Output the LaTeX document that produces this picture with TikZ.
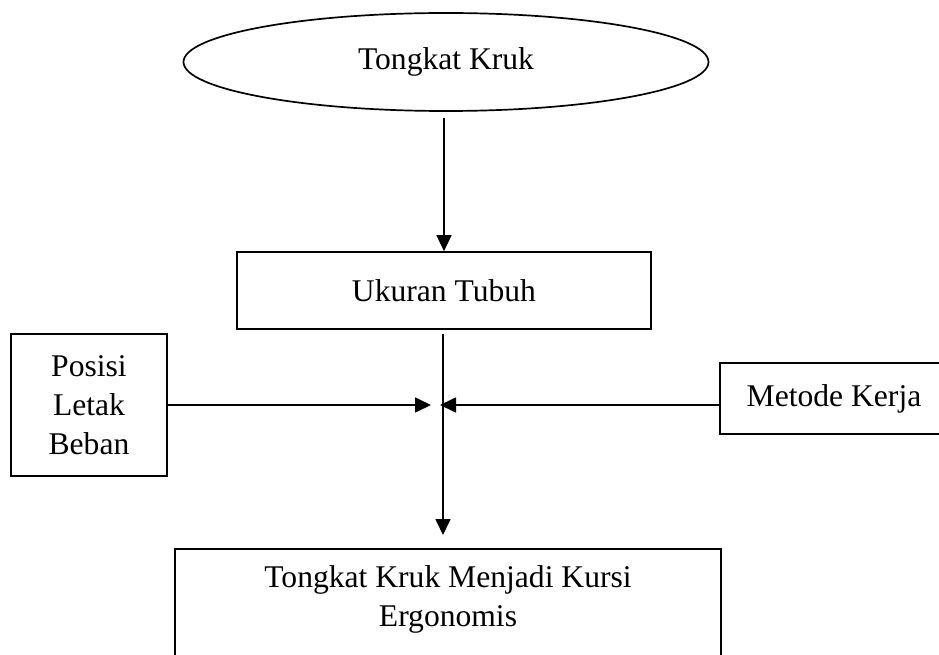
\documentclass[tikz,border=0pt]{standalone}
\usepackage{fontspec}
\setmainfont{Liberation Serif}
\usepackage{tikz}
\usetikzlibrary{shapes.geometric,arrows.meta}

\begin{document}
\begin{tikzpicture}[
  x=1pt,y=-1pt,
  kotak/.style={draw,line width=1.7pt,inner sep=0pt},
  teks/.style={align=center,inner sep=0pt},
  panah/.style={line width=1.7pt,-{Triangle[length=16pt,width=15pt]}},
  font=\fontsize{31.6}{39}\selectfont
  ]
\useasboundingbox (0,0) rectangle (939,655);
\clip (0,0) rectangle (939,655);
\def\tengah{444}
\node[kotak,ellipse,minimum width=525,minimum height=98] (kruk) at (446,62){Tongkat Kruk};        % start
\node[kotak,minimum width=414,minimum height=77] (ukuran) at (\tengah,290.5){Ukuran Tubuh};       % body size
\node[kotak,teks,minimum width=156,minimum height=142] (posisi) at (89,405){Posisi\\Letak\\Beban}; % left input
\node[kotak,minimum width=228,minimum height=71] (metode) at (834,398.5){Metode Kerja};            % right input
\node[kotak,minimum width=546,minimum height=130,anchor=north] (hasil) at (448,548){};           % result frame
\node[teks] (hasilteks) at (448,599){Tongkat Kruk Menjadi Kursi\\Ergonomis};                      % result text
\coordinate (pusat) at (443,405);                                                                  % junction
\draw[panah,shorten <=6pt] (ukuran.north |- kruk.south) -- (ukuran.north);
\draw[panah,shorten <=4pt,shorten >=13pt] (ukuran.south -| pusat) -- (hasil.north -| pusat);
\draw[panah,shorten >=12pt] (posisi.east) -- (pusat);
\draw[panah,shorten >=-3pt] (metode.west |- pusat) -- (pusat);
\end{tikzpicture}
\end{document}
